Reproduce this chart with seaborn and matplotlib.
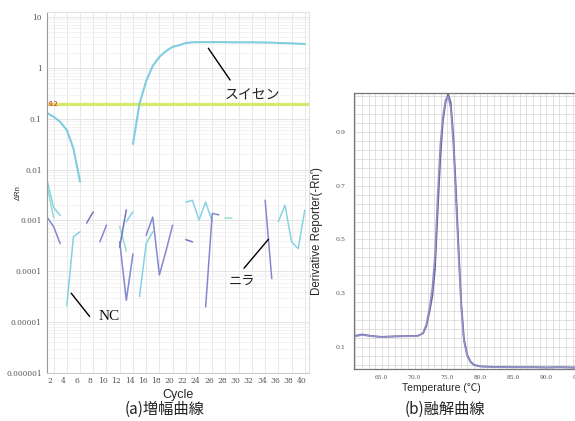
import numpy as np
import pandas as pd
import matplotlib
matplotlib.use('Agg')
import matplotlib.pyplot as plt
import seaborn as sns
from matplotlib.ticker import FixedLocator, MultipleLocator

# ── data: amplification plot (ΔRn, log scale); NaN = not drawn (<= 0) ──
cycles = list(range(1, 41))
nan = np.nan

suisen = [0.13, 0.11, 0.087, 0.06, 0.026, 0.0058, nan, nan, nan, nan,
          nan, nan, nan, 0.032, 0.20, 0.55, 1.1, 1.65, 2.15, 2.6,
          2.8, 3.1, 3.2, 3.22, 3.22, 3.22, 3.22, 3.22, 3.2, 3.2,
          3.2, 3.2, 3.18, 3.17, 3.15, 3.1, 3.08, 3.05, 3.0, 2.95]
nc = [nan, nan, nan, 2.1e-5, 4.8e-4, 6.0e-4, nan, nan, nan, nan,
      nan, nan, nan, nan, 3.2e-5, 3.5e-4, 6.0e-4, nan, nan, nan,
      nan, nan, nan, nan, nan, nan, nan, nan, nan, nan,
      nan, nan, nan, nan, nan, nan, nan, nan, nan, nan]
nc_2 = [6.3e-3, 1.8e-3, 1.26e-3, nan, nan, nan, nan, nan, nan, nan,
        nan, nan, 9.5e-4, 1.48e-3, nan, nan, nan, nan, nan, nan,
        nan, 2.3e-3, 2.5e-3, 1.02e-3, 2.3e-3, 9.5e-4, nan, nan, nan, nan,
        nan, nan, nan, nan, nan, 9.5e-4, 2.0e-3, 3.8e-4, 2.8e-4, 1.6e-3]
nc_3 = [5.0e-3, 1.12e-3, nan, nan, nan, nan, nan, nan, nan, nan,
        nan, 7.6e-4, 2.5e-4, nan, nan, nan, nan, nan, nan, nan,
        nan, nan, nan, nan, nan, nan, nan, 1.12e-3, 1.12e-3, nan,
        nan, nan, nan, nan, nan, nan, nan, nan, nan, nan]
nira = [1.17e-3, 7.6e-4, 3.5e-4, nan, nan, nan, nan, nan, 3.8e-4, 8.1e-4,
        nan, 3.8e-4, 2.7e-5, 2.2e-4, nan, 5.1e-4, 1.17e-3, 8.5e-5, 2.5e-4, 8.1e-4,
        nan, nan, nan, nan, 2.0e-5, 1.38e-3, 1.29e-3, nan, nan, nan,
        nan, nan, nan, 2.5e-3, 7.2e-5, nan, nan, nan, nan, nan]
nira_2 = [nan, nan, nan, nan, nan, nan, 8.9e-4, 1.48e-3, nan, nan,
          nan, 3.0e-4, 1.62e-3, nan, nan, nan, nan, nan, nan, nan,
          nan, 4.2e-4, 3.8e-4, nan, nan, nan, nan, nan, nan, nan,
          nan, nan, nan, nan, nan, nan, nan, nan, nan, nan]

amp_series = {'スイセン': suisen, 'NC': nc, 'NC_2': nc_2, 'NC_3': nc_3,
              'ニラ': nira, 'ニラ_2': nira_2}
cycle_ticks = list(range(2, 41, 2))
dRn_ticks = [1e-6, 1e-5, 1e-4, 1e-3, 1e-2, 1e-1, 1, 10]
dRn_labels = ['0.000001', '0.00001', '0.0001', '0.001', '0.01', '0.1', '1', '10']
threshold = 0.2

# ── data: melt curve ──
temps = [60.8, 62.0, 63.5, 65.0, 67.0, 69.0, 70.5, 71.3, 71.8, 72.3, 72.7,
         73.1, 73.5, 73.9, 74.3, 74.7, 75.1, 75.5, 75.9, 76.3, 76.7, 77.1,
         77.5, 78.0, 78.5, 79.0, 80.0, 82.0, 85.0, 88.0, 90.0, 92.0, 94.0, 96.0]
melt_1 = [0.140, 0.146, 0.140, 0.137, 0.139, 0.140, 0.141, 0.150, 0.178, 0.235, 0.29,
          0.39, 0.60, 0.80, 0.94, 1.01, 1.044, 1.01, 0.88, 0.68, 0.46, 0.26,
          0.13, 0.07, 0.045, 0.033, 0.027, 0.025, 0.024, 0.024, 0.023, 0.024, 0.023, 0.022]
melt_2 = [0.138, 0.144, 0.139, 0.136, 0.138, 0.139, 0.140, 0.152, 0.185, 0.25, 0.32,
          0.44, 0.66, 0.85, 0.96, 1.02, 1.035, 0.99, 0.85, 0.64, 0.43, 0.24,
          0.12, 0.065, 0.042, 0.031, 0.026, 0.024, 0.023, 0.023, 0.022, 0.023, 0.022, 0.021]
temp_ticks = [65, 70, 75, 80, 85, 90, 95]
deriv_ticks = [0.1, 0.3, 0.5, 0.7, 0.9]

# ── long tables ──
rows = []
for well, vals in amp_series.items():
    seg = 0
    for c, v in zip(cycles, vals):
        if np.isnan(v):
            seg += 1
            continue
        rows.append({'well': well, 'seg': f'{well}_{seg}', 'Cycle': c, 'dRn': v})
amp = pd.DataFrame(rows)

melt = pd.concat([
    pd.DataFrame({'well': 'rep1', 'Temperature': temps, 'deriv': melt_1}),
    pd.DataFrame({'well': 'rep2', 'Temperature': temps, 'deriv': melt_2}),
])

# ── style ──
sns.set_theme(style='white')
plt.rcParams['font.family'] = ['Noto Sans CJK JP', 'DejaVu Sans']
tick_font = {'family': 'DejaVu Serif'}

amp_palette = {'スイセン': '#7fcde0', 'NC': '#82d2e4', 'NC_2': '#86d3e2',
               'NC_3': '#97dcd2', 'ニラ': '#8488d0', 'ニラ_2': '#7276c2'}

fig = plt.figure(figsize=(5.75, 4.21), dpi=100)

# ── (a) amplification ──
ax = fig.add_axes([0.0823, 0.114, 0.4547, 0.857])
ax.set_yscale('log')
noise = amp[amp['well'] != 'スイセン']
sns.lineplot(data=noise, x='Cycle', y='dRn', hue='well', units='seg', estimator=None,
             palette=amp_palette, ax=ax, linewidth=1.1, legend=False)
sns.lineplot(data=amp[amp['well'] == 'スイセン'], x='Cycle', y='dRn', units='seg',
             estimator=None, color=amp_palette['スイセン'], ax=ax, linewidth=1.5)
ax.axhline(threshold, color='#d6e96c', lw=2.3, zorder=1)
ax.text(1.2, threshold, '0.2', color='#e0443a', fontsize=4.5, fontweight='bold',
        va='center', ha='left', zorder=3)

ax.set_xlim(1.05, 40.6)
ax.set_ylim(1e-6, 12.5)
ax.xaxis.set_major_locator(FixedLocator([t - 0.5 for t in cycle_ticks]))
ax.set_xticklabels([str(t) for t in cycle_ticks], fontsize=5.5, color='#555', **tick_font)
ax.xaxis.set_minor_locator(FixedLocator(cycle_ticks))
ax.yaxis.set_major_locator(FixedLocator(dRn_ticks))
ax.set_yticklabels(dRn_labels, fontsize=5.3, color='#555', **tick_font)
ax.tick_params(axis='both', which='both', length=0)
ax.tick_params(axis='x', pad=3)
ax.tick_params(axis='y', pad=4)
ax.grid(which='minor', axis='x', color='#e8e8e8', lw=0.7)
ax.grid(which='major', axis='y', color='#e4e4e4', lw=0.7)
ax.grid(which='minor', axis='y', color='#eeeeee', lw=0.5)
ax.set_xlabel('Cycle', fontsize=9, family='Liberation Sans', labelpad=3)
ax.set_ylabel('ΔRn', fontsize=5.5, family='Liberation Sans')
ax.yaxis.set_label_coords(-0.097, 0.5)
for s in ['top', 'right']:
    ax.spines[s].set_color('#e2e2e2')
ax.spines['left'].set_color('#999999')
ax.spines['bottom'].set_color('#cccccc')
for s in ax.spines.values():
    s.set_linewidth(0.8)

line_kw = dict(arrowstyle='-', color='black', lw=1.0, shrinkA=0, shrinkB=0)
ax.annotate('', xy=(25.4, 2.45), xytext=(28.7, 0.58), arrowprops=line_kw)
ax.text(32.0, 0.29, 'スイセン', fontsize=10, ha='center', va='center', color='#222')
ax.annotate('', xy=(4.67, 3.7e-5), xytext=(7.44, 1.3e-5), arrowprops=line_kw)
ax.text(10.4, 1.3e-5, 'NC', fontsize=11, ha='center', va='center',
        family='Liberation Serif', color='#111')
ax.annotate('', xy=(34.5, 4.27e-4), xytext=(30.8, 1.15e-4), arrowprops=line_kw)
ax.text(30.5, 6.5e-5, 'ニラ', fontsize=9.5, ha='center', va='center', color='#222')

fig.text(0.287, 0.028, '(a)増幅曲線', fontsize=11, ha='center', va='center', color='#222')

# ── (b) melt curve ──
bx = fig.add_axes([0.6162, 0.1235, 0.4138, 0.6548])
sns.lineplot(data=melt, x='Temperature', y='deriv', hue='well',
             palette={'rep1': '#5e5e98', 'rep2': '#9292c8'}, ax=bx,
             linewidth=1.2, legend=False, sort=False)
bx.set_xlim(60.84, 97)
bx.set_ylim(0.017, 1.045)
bx.xaxis.set_major_locator(FixedLocator(temp_ticks))
bx.set_xticklabels([f'{t:.1f}' for t in temp_ticks], fontsize=4.3, color='#555', **tick_font)
bx.xaxis.set_minor_locator(MultipleLocator(1))
bx.yaxis.set_major_locator(FixedLocator(deriv_ticks))
bx.set_yticklabels([f'{t:.1f}' for t in deriv_ticks], fontsize=4.5, color='#555', **tick_font)
bx.yaxis.set_minor_locator(MultipleLocator(1 / 30))
bx.tick_params(axis='both', which='both', length=0)
bx.tick_params(axis='x', pad=4)
bx.tick_params(axis='y', pad=6)
bx.grid(which='both', color='#d4d4d4', lw=0.5)
bx.set_xlabel('Temperature (℃)', fontsize=7.5, family=['Liberation Sans', 'Noto Sans CJK JP'])
bx.xaxis.set_label_coords(0.364, -0.05)
bx.set_ylabel("Derivative Reporter(-Rn')", fontsize=8.3, family='Liberation Sans')
bx.yaxis.set_label_coords(-0.13, 0.5)
for s in bx.spines.values():
    s.set_color('#777777')
    s.set_linewidth(0.9)

fig.text(0.774, 0.028, '(b)融解曲線', fontsize=11, ha='center', va='center', color='#222')

fig.savefig('out.png', dpi=100, facecolor='white')
